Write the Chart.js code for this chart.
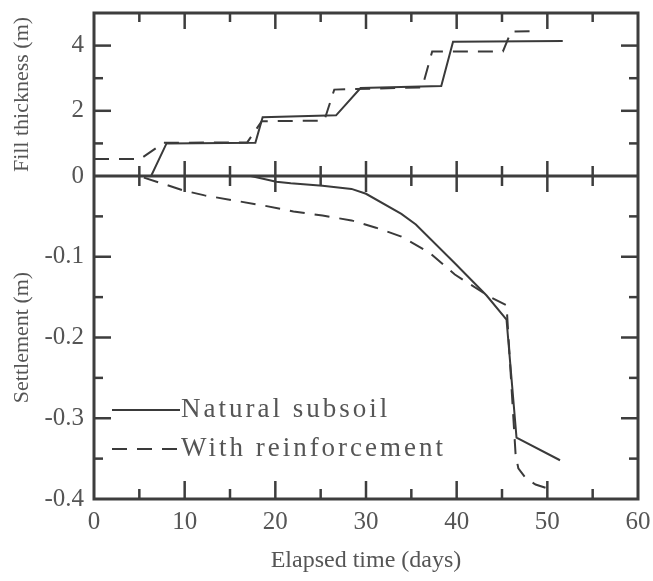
<!DOCTYPE html>
<html>
<head>
<meta charset="utf-8">
<script src="https://cdn.jsdelivr.net/npm/chart.js@4.4.0/dist/chart.umd.min.js"></script>
<style>
  html, body { margin: 0; padding: 0; background: #fff; }
  canvas { display: block; }
</style>
</head>
<body>
<canvas id="settlementChart" width="653" height="581"></canvas>
<script>
// fill placement history (m) against elapsed time (days)
const naturalFillDays = [6.3, 8.0, 17.8, 18.6, 26.7, 29.4, 38.3, 39.6, 51.7];
const naturalFillThickness = [0, 1.0, 1.02, 1.8, 1.86, 2.7, 2.76, 4.12, 4.14];
const reinforcedFillDays = [0, 5.1, 7.7, 16.9, 18.5, 25.4, 26.5, 36.2, 37.3, 45.1, 46.0, 49.0];
const reinforcedFillThickness = [0.52, 0.52, 1.02, 1.03, 1.68, 1.7, 2.65, 2.72, 3.82, 3.82, 4.43, 4.45];

// settlement (m)
const naturalSettleDays = [17.3, 20.1, 21.7, 25.2, 28.4, 30.0, 33.9, 35.5, 39.8, 43.3, 45.5, 46.6, 51.4];
const naturalSettlement = [0, -0.007, -0.009, -0.012, -0.016, -0.022, -0.047, -0.06, -0.108, -0.148, -0.178, -0.324, -0.352];
const reinforcedSettleDays = [5.5, 9.9, 12.2, 15.8, 18.9, 22.0, 25.2, 28.4, 31.1, 33.9, 37.0, 39.8, 43.7, 45.5, 46.5, 46.8, 47.6, 48.7, 49.8];
const reinforcedSettlement = [-0.002, -0.018, -0.024, -0.031, -0.037, -0.044, -0.049, -0.055, -0.064, -0.075, -0.095, -0.122, -0.150, -0.160, -0.345, -0.362, -0.374, -0.382, -0.386];

const xTickLabels = [0, 10, 20, 30, 40, 50, 60];
const fillTickLabels = [0, 2, 4];
const settlementTickLabels = ['-0.1', '-0.2', '-0.3', '-0.4'];

const lineColor = '#3a3a3a';
const textColor = '#555555';
const serif = "'Liberation Serif', 'Times New Roman', serif";

const toPoints = (xs, ys) => xs.map((x, i) => ({x: x, y: ys[i]}));

Chart.defaults.font.family = serif;
Chart.defaults.color = textColor;

// keep the plot box where the reference has it
const noEdgePadding = s => {
  s.paddingTop = 0;
  s.paddingBottom = 0;
  s.paddingLeft = 0;
  s.paddingRight = 0;
};

const frameAndTicks = {
  id: 'frameAndTicks',
  afterDatasetsDraw(chart) {
    const {ctx, chartArea: a, scales} = chart;
    const x = scales.x, yTop = scales.yTop, yBot = scales.yBot;
    const seg = (x0, y0, x1, y1) => {
      ctx.beginPath();
      ctx.moveTo(x0, y0);
      ctx.lineTo(x1, y1);
      ctx.stroke();
    };
    ctx.save();
    ctx.strokeStyle = '#3d3d3d';
    ctx.lineWidth = 3;
    ctx.strokeRect(a.left, a.top, a.right - a.left, a.bottom - a.top);
    const zeroY = yTop.getPixelForValue(0);
    seg(a.left, zeroY, a.right, zeroY);

    ctx.lineWidth = 2.5;
    for (let d = 5; d < 60; d += 5) {
      const px = x.getPixelForValue(d);
      const major = d % 10 === 0;
      seg(px, a.top, px, a.top + (major ? 16 : 9));
      seg(px, zeroY - (major ? 15 : 10), px, zeroY + (major ? 16 : 10));
      seg(px, a.bottom, px, a.bottom - (major ? 18 : 10));
    }
    for (let v = 1; v < 5; v++) {
      const py = yTop.getPixelForValue(v);
      const len = v % 2 === 0 ? 17 : 9;
      seg(a.left, py, a.left + len, py);
      seg(a.right, py, a.right - len, py);
    }
    for (let k = 1; k < 8; k++) {
      const py = yBot.getPixelForValue(-0.05 * k);
      const len = k % 2 === 0 ? 17 : 9;
      seg(a.left, py, a.left + len, py);
      seg(a.right, py, a.right - len, py);
    }
    ctx.restore();
  },
  afterDraw(chart) {
    // legend sits inside the settlement panel
    const ctx = chart.ctx;
    const rows = [chart.data.datasets[2], chart.data.datasets[3]];
    ctx.save();
    ctx.font = '27px ' + serif;
    ctx.letterSpacing = '3px';
    ctx.fillStyle = textColor;
    ctx.textBaseline = 'middle';
    rows.forEach((ds, i) => {
      const y = 410 + i * 39;
      ctx.strokeStyle = ds.borderColor;
      ctx.lineWidth = ds.borderWidth;
      ctx.setLineDash(ds.borderDash || []);
      ctx.beginPath();
      ctx.moveTo(112, y);
      ctx.lineTo(180, y);
      ctx.stroke();
      ctx.fillText(ds.label, 181, y);
    });
    ctx.restore();
  }
};

const settlementChart = document.getElementById('settlementChart');
new Chart(settlementChart, {
  type: 'line',
  data: {
    datasets: [
      {
        label: 'Natural subsoil',
        data: toPoints(naturalFillDays, naturalFillThickness),
        yAxisID: 'yTop',
        borderColor: lineColor,
        borderWidth: 2,
        pointRadius: 0,
        tension: 0
      },
      {
        label: 'With reinforcement',
        data: toPoints(reinforcedFillDays, reinforcedFillThickness),
        yAxisID: 'yTop',
        borderColor: lineColor,
        borderWidth: 2,
        borderDash: [15, 10],
        pointRadius: 0,
        tension: 0
      },
      {
        label: 'Natural subsoil',
        data: toPoints(naturalSettleDays, naturalSettlement),
        yAxisID: 'yBot',
        borderColor: lineColor,
        borderWidth: 2,
        pointRadius: 0,
        tension: 0
      },
      {
        label: 'With reinforcement',
        data: toPoints(reinforcedSettleDays, reinforcedSettlement),
        yAxisID: 'yBot',
        borderColor: lineColor,
        borderWidth: 2,
        borderDash: [15, 10],
        pointRadius: 0,
        tension: 0
      }
    ]
  },
  options: {
    responsive: false,
    animation: false,
    devicePixelRatio: 1,
    layout: {
      padding: {top: 13, right: 15, left: 0, bottom: 0}
    },
    plugins: {
      legend: false,
      tooltip: {
        enabled: false
      }
    },
    scales: {
      x: {
        type: 'linear',
        min: 0,
        max: 60,
        grid: {display: false, drawTicks: false},
        border: {display: false},
        ticks: {
          stepSize: 10,
          autoSkip: false,
          maxRotation: 0,
          padding: 8,
          font: {size: 25},
          callback: v => xTickLabels.includes(v) ? String(v) : ''
        },
        title: {
          display: true,
          text: 'Elapsed time (days)',
          font: {size: 24},
          padding: {top: 0, bottom: 6}
        },
        afterFit: s => { noEdgePadding(s); s.height = 82; }
      },
      yBot: {
        type: 'linear',
        position: 'left',
        stack: 'panels',
        stackWeight: 323,
        min: -0.4,
        max: 0,
        grid: {display: false, drawTicks: false},
        border: {display: false},
        ticks: {
          stepSize: 0.1,
          autoSkip: false,
          padding: 10,
          font: {size: 25},
          callback: v => {
            const label = Number(v).toFixed(1);
            return settlementTickLabels.includes(label) ? label : '';
          }
        },
        title: {
          display: true,
          text: 'Settlement (m)',
          font: {size: 22},
          padding: {top: 9, bottom: 0}
        },
        afterFit: s => { noEdgePadding(s); s.width = 94; }
      },
      yTop: {
        type: 'linear',
        position: 'left',
        stack: 'panels',
        stackWeight: 163,
        min: 0,
        max: 5,
        grid: {display: false, drawTicks: false},
        border: {display: false},
        ticks: {
          stepSize: 1,
          autoSkip: false,
          padding: 10,
          font: {size: 25},
          callback: v => fillTickLabels.includes(v) ? String(v) : ''
        },
        title: {
          display: true,
          text: 'Fill thickness (m)',
          font: {size: 22},
          padding: {top: 9, bottom: 0}
        },
        afterFit: s => { noEdgePadding(s); s.width = 94; }
      }
    }
  },
  plugins: [frameAndTicks]
});
</script>
</body>
</html>
